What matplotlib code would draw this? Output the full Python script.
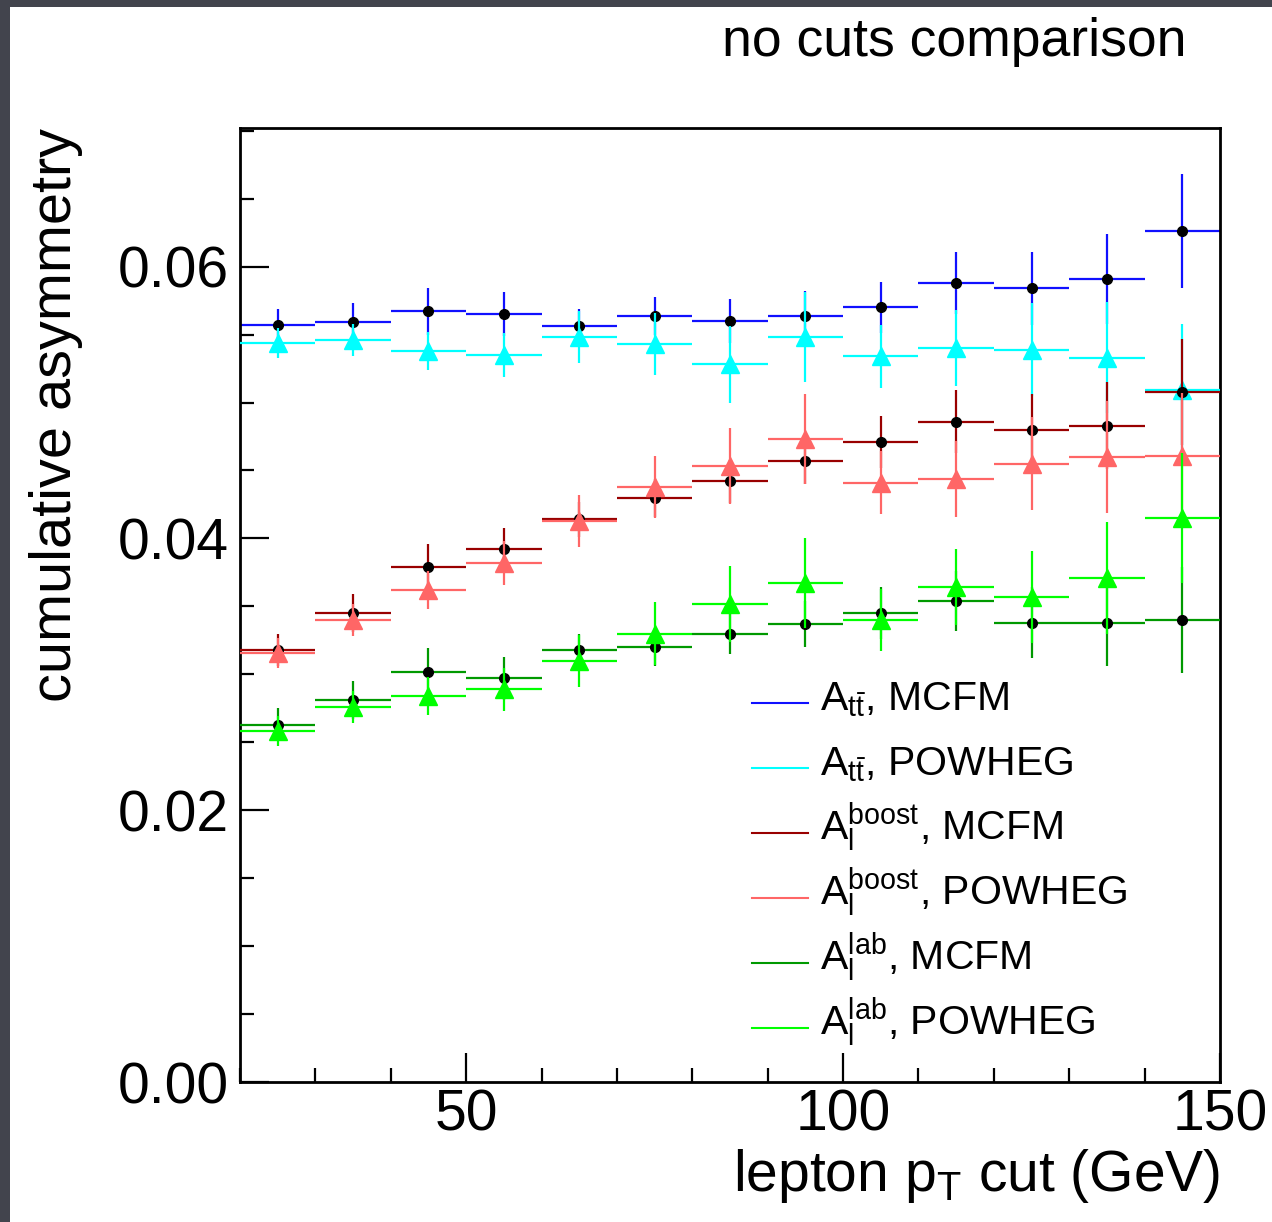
import matplotlib
matplotlib.use("Agg")
from matplotlib import pyplot as plt
from matplotlib.patches import Rectangle
from matplotlib.ticker import MultipleLocator, FormatStrFormatter
import numpy as np

plt.rcParams["font.family"] = "Liberation Sans"
plt.rcParams["mathtext.fontset"] = "custom"
plt.rcParams["mathtext.rm"] = "Liberation Sans"
plt.rcParams["mathtext.it"] = "Liberation Sans:italic"
plt.rcParams["mathtext.default"] = "regular"

# lepton pT cut bins (centres, half width)
pt_cut = [25, 35, 45, 55, 65, 75, 85, 95, 105, 115, 125, 135, 145]
pt_halfwidth = 5

att_mcfm = [0.0557, 0.0559, 0.0567, 0.0565, 0.0556, 0.0564, 0.0560, 0.0564, 0.0570, 0.0588, 0.0584, 0.0591, 0.0626]
att_mcfm_err = [0.0012, 0.0014, 0.0017, 0.0016, 0.0013, 0.0014, 0.0016, 0.0018, 0.0019, 0.0023, 0.0027, 0.0033, 0.0042]
att_powheg = [0.0544, 0.0546, 0.0538, 0.0535, 0.0548, 0.0543, 0.0528, 0.0548, 0.0534, 0.0540, 0.0539, 0.0533, 0.0509]
att_powheg_err = [0.0011, 0.0012, 0.0014, 0.0016, 0.0019, 0.0023, 0.0028, 0.0033, 0.0023, 0.0028, 0.0034, 0.0041, 0.0049]

boost_mcfm = [0.0318, 0.0345, 0.0379, 0.0392, 0.0414, 0.0430, 0.0442, 0.0457, 0.0471, 0.0486, 0.0480, 0.0483, 0.0508]
boost_mcfm_err = [0.0012, 0.0014, 0.0017, 0.0016, 0.0013, 0.0014, 0.0016, 0.0017, 0.0019, 0.0023, 0.0026, 0.0032, 0.0039]
boost_powheg = [0.0316, 0.0340, 0.0362, 0.0382, 0.0413, 0.0438, 0.0453, 0.0473, 0.0441, 0.0444, 0.0455, 0.0460, 0.0461]
boost_powheg_err = [0.0011, 0.0012, 0.0014, 0.0016, 0.0019, 0.0023, 0.0028, 0.0033, 0.0023, 0.0028, 0.0034, 0.0041, 0.0046]

lab_mcfm = [0.0263, 0.0281, 0.0302, 0.0297, 0.0318, 0.0320, 0.0330, 0.0337, 0.0345, 0.0354, 0.0338, 0.0338, 0.0340]
lab_mcfm_err = [0.0012, 0.0014, 0.0017, 0.0016, 0.0012, 0.0014, 0.0015, 0.0017, 0.0019, 0.0022, 0.0026, 0.0032, 0.0039]
lab_powheg = [0.0258, 0.0276, 0.0284, 0.0289, 0.0310, 0.0330, 0.0352, 0.0367, 0.0340, 0.0364, 0.0357, 0.0371, 0.0415]
lab_powheg_err = [0.0011, 0.0012, 0.0014, 0.0016, 0.0019, 0.0023, 0.0028, 0.0033, 0.0023, 0.0028, 0.0034, 0.0041, 0.0048]

labels = [r"A$_{t\bar{t}}$, MCFM", r"A$_{t\bar{t}}$, POWHEG",
          r"A$_l^{boost}$, MCFM", r"A$_l^{boost}$, POWHEG",
          r"A$_l^{lab}$, MCFM", r"A$_l^{lab}$, POWHEG"]
colors = ["#1010ff", "#00ffff", "#990000", "#ff6666", "#009900", "#00ff00"]

series = [(att_mcfm, att_mcfm_err), (att_powheg, att_powheg_err),
          (boost_mcfm, boost_mcfm_err), (boost_powheg, boost_powheg_err),
          (lab_mcfm, lab_mcfm_err), (lab_powheg, lab_powheg_err)]

fig = plt.figure(figsize=(12.72, 12.22), dpi=100, facecolor="#42444d")
fig.patches.append(Rectangle((10 / 1272, 0), 1, 1 - 7 / 1222, transform=fig.transFigure,
                             facecolor="white", edgecolor="none", zorder=-1))
ax = fig.add_axes([240 / 1272, 1 - 1082 / 1222, 980 / 1272, 954 / 1222])

for i, ((y, yerr), c) in enumerate(zip(series, colors)):
    if i % 2 == 0:
        # MCFM: black dots, coloured error bars
        ax.errorbar(pt_cut, y, xerr=pt_halfwidth, yerr=yerr, fmt="o", color=c,
                    mfc="black", mec="black", ms=7, elinewidth=1.6, capsize=0, zorder=2 + i)
    else:
        # POWHEG: coloured triangles
        ax.errorbar(pt_cut, y, xerr=pt_halfwidth, yerr=yerr, fmt="^", color=c,
                    ms=12.5, elinewidth=1.6, capsize=0, zorder=2 + i)

ax.set_xlim(20, 150)
ax.set_ylim(0, 0.0702)
ax.xaxis.set_major_locator(MultipleLocator(50))
ax.xaxis.set_minor_locator(MultipleLocator(10))
ax.yaxis.set_major_locator(MultipleLocator(0.02))
ax.yaxis.set_minor_locator(MultipleLocator(0.005))
ax.yaxis.set_major_formatter(FormatStrFormatter("%.2f"))
ax.tick_params(which="both", direction="in", top=False, right=False, width=1.6, labelsize=41)
ax.tick_params(which="major", length=21)
ax.tick_params(which="minor", length=10)
ax.tick_params(axis="x", pad=5)
ax.tick_params(axis="y", pad=8)
for s in ax.spines.values():
    s.set_linewidth(2)

ax.set_xlabel(r"lepton p$_T$ cut (GeV)", fontsize=41, loc="right", labelpad=3)
ax.set_ylabel("cumulative asymmetry", fontsize=41.5, loc="top", labelpad=25)

# legend: coloured line sample + entry text, one row per series
x_line = np.array([752, 808]) - 240
for i, (lab, c) in enumerate(zip(labels, colors)):
    y_row = 1082 - (703 + 65 * i)
    ax.plot(x_line / 980, [y_row / 954] * 2, color=c, lw=1.5, transform=ax.transAxes, clip_on=False)
    ax.text((820 - 240) / 980, (y_row - 7) / 954, lab, fontsize=29.5, ha="left", va="baseline",
            transform=ax.transAxes)

fig.text(1187 / 1272, 1 - 42 / 1222, "no cuts comparison", fontsize=38.5, ha="right", va="center")

fig.savefig("out.png", dpi=100, facecolor=fig.get_facecolor())
